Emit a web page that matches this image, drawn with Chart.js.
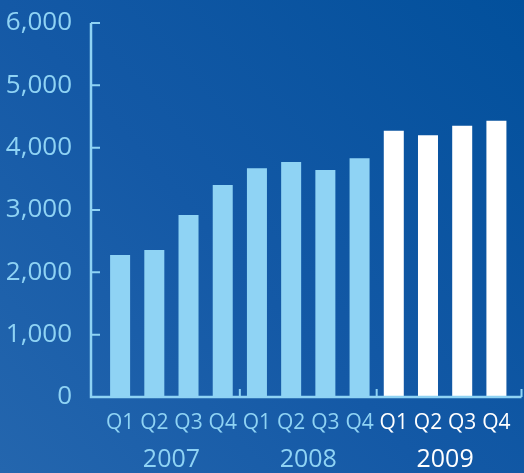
<!DOCTYPE html>
<html>
<head>
<meta charset="utf-8">
<script src="https://cdn.jsdelivr.net/npm/chart.js@4"></script>
<style>
  html, body { margin: 0; padding: 0; background: #0b55a2; }
  #wrap { width: 524px; height: 473px; position: relative; }
</style>
</head>
<body>
<div id="wrap"><canvas id="grafico" width="524" height="473"></canvas></div>
<script>
const quarters = ["Q1", "Q2", "Q3", "Q4", "Q1", "Q2", "Q3", "Q4", "Q1", "Q2", "Q3", "Q4"];
const years = ["2007", "2008", "2009"];
const values = [2280, 2360, 2920, 3400, 3670, 3770, 3640, 3830, 4270, 4200, 4350, 4430];
const yMin = 0;
const yMax = 6000;
const yStep = 1000;

const claro = "#8fd3f4";
const branco = "#ffffff";
const fonte = "'Open Sans', 'DejaVu Sans', sans-serif";

// 2009 em branco, resto azul claro
const corPorIndice = i => (i >= 8 ? branco : claro);
const corPorAno = i => (i === 2 ? branco : claro);

const fundo = {
  id: "fundo",
  beforeDraw(chart) {
    const { ctx, width, height } = chart;
    const g = ctx.createLinearGradient(0, height, width, 0);
    g.addColorStop(0, "#2466ae");
    g.addColorStop(0.45, "#1459a6");
    g.addColorStop(1, "#02509c");
    ctx.save();
    ctx.fillStyle = g;
    ctx.fillRect(0, 0, width, height);
    ctx.restore();
  }
};

const eixos = {
  id: "eixos",
  afterDatasetsDraw(chart) {
    const { ctx, chartArea, scales } = chart;
    const x0 = chartArea.left - 12;
    const yBase = scales.y.getPixelForValue(0);
    const yTop = scales.y.getPixelForValue(yMax);
    const xEnd = chartArea.right + 8;
    ctx.save();
    ctx.strokeStyle = claro;
    ctx.lineWidth = 2.5;
    ctx.beginPath();
    ctx.moveTo(x0, yTop);
    ctx.lineTo(x0, yBase);
    ctx.lineTo(xEnd, yBase);
    ctx.stroke();
    ctx.lineWidth = 2;
    ctx.beginPath();
    scales.y.ticks.forEach(t => {
      const py = scales.y.getPixelForValue(t.value);
      ctx.moveTo(x0, py);
      ctx.lineTo(x0 + 9, py);
    });
    // separadores entre anos
    const sx = scales.x;
    [3, 7].forEach(i => {
      const px = (sx.getPixelForValue(i) + sx.getPixelForValue(i + 1)) / 2;
      ctx.moveTo(px, yBase);
      ctx.lineTo(px, yBase - 8);
    });
    ctx.moveTo(xEnd, yBase);
    ctx.lineTo(xEnd, yBase - 8);
    ctx.stroke();
    ctx.restore();
  }
};

new Chart(document.getElementById("grafico").getContext("2d"), {
  type: "bar",
  data: {
    labels: quarters,
    datasets: [{
      data: values,
      backgroundColor: ctx => corPorIndice(ctx.dataIndex),
      borderWidth: 0,
      categoryPercentage: 1,
      barPercentage: 0.585
    }]
  },
  options: {
    responsive: false,
    animation: false,
    layout: { padding: { top: 0, right: 10, left: 0, bottom: 0 } },
    plugins: { legend: { display: false }, tooltip: { enabled: false } },
    scales: {
      y: {
        min: yMin,
        max: yMax,
        grid: { display: false, drawTicks: false },
        border: { display: false },
        afterFit: s => { s.width = 103; s.paddingTop = 23; s.paddingBottom = 0; },
        ticks: {
          stepSize: yStep,
          padding: 31,
          color: claro,
          font: { family: fonte, size: 26 },
          callback: v => v.toLocaleString("en-US")
        }
      },
      x: {
        weight: 0,
        grid: { display: false, drawTicks: false },
        border: { display: false },
        afterFit: s => { s.height = 42; },
        ticks: {
          autoSkip: false,
          maxRotation: 0,
          padding: 13,
          color: ctx => corPorIndice(ctx.index),
          font: { family: fonte, size: 21 }
        }
      },
      anos: {
        type: "category",
        position: "bottom",
        labels: years,
        weight: 1,
        grid: { display: false, drawTicks: false },
        border: { display: false },
        afterFit: s => { s.height = 34; },
        ticks: {
          padding: 6,
          color: ctx => corPorAno(ctx.index),
          font: { family: fonte, size: 25 }
        }
      }
    }
  },
  plugins: [fundo, eixos]
});
</script>
</body>
</html>
